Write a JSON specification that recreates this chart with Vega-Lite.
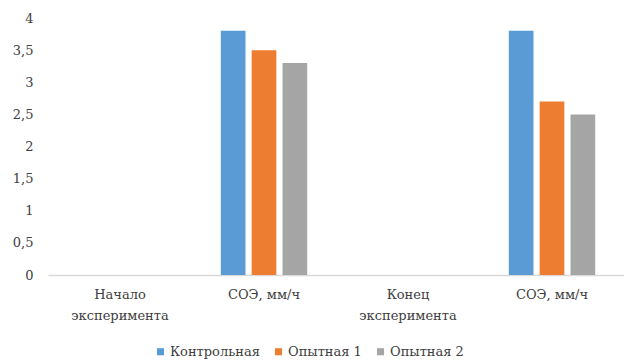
{
  "$schema": "https://vega.github.io/schema/vega-lite/v6.json",
  "width": 576,
  "height": 257,
  "autosize": "none",
  "padding": {"left": 48, "top": 18, "right": 0, "bottom": 88},
  "background": "white",
  "data": {
    "values": [
      {"cat": "B", "group": "Контрольная", "value": 3.8},
      {"cat": "B", "group": "Опытная 1", "value": 3.5},
      {"cat": "B", "group": "Опытная 2", "value": 3.3},
      {"cat": "D", "group": "Контрольная", "value": 3.8},
      {"cat": "D", "group": "Опытная 1", "value": 2.7},
      {"cat": "D", "group": "Опытная 2", "value": 2.5}
    ]
  },
  "mark": {"type": "bar"},
  "encoding": {
    "x": {
      "field": "cat",
      "type": "nominal",
      "scale": {"domain": ["A", "B", "C", "D"], "paddingInner": 0.4, "paddingOuter": 0.2},
      "axis": {
        "title": null,
        "labelAngle": 0,
        "labelExpr": "datum.value == 'A' ? ['Начало', 'эксперимента'] : datum.value == 'C' ? ['Конец', 'эксперимента'] : 'СОЭ, мм/ч'",
        "labelFontSize": 13,
        "labelColor": "#404040",
        "labelPadding": 13,
        "labelLineHeight": 21,
        "ticks": false,
        "domainColor": "#D9D9D9",
        "domainWidth": 1.5,
        "grid": false
      }
    },
    "xOffset": {
      "field": "group",
      "type": "nominal",
      "sort": ["Контрольная", "Опытная 1", "Опытная 2"],
      "scale": {"paddingInner": 0.2, "paddingOuter": 0}
    },
    "y": {
      "field": "value",
      "type": "quantitative",
      "scale": {"domain": [0, 4], "nice": false},
      "axis": {
        "title": null,
        "values": [0, 0.5, 1, 1.5, 2, 2.5, 3, 3.5, 4],
        "labelExpr": "replace(toString(datum.value), '.', ',')",
        "labelFontSize": 13,
        "labelColor": "#404040",
        "labelPadding": 15,
        "ticks": false,
        "domain": false,
        "grid": false
      }
    },
    "color": {
      "field": "group",
      "type": "nominal",
      "sort": ["Контрольная", "Опытная 1", "Опытная 2"],
      "scale": {"domain": ["Контрольная", "Опытная 1", "Опытная 2"], "range": ["#5B9BD5", "#ED7D31", "#A5A5A5"]},
      "legend": {
        "title": null,
        "orient": "none",
        "direction": "horizontal",
        "legendX": 106,
        "legendY": 327,
        "symbolType": "square",
        "symbolSize": 50,
        "symbolStrokeWidth": 0,
        "labelFontSize": 13,
        "labelColor": "#404040",
        "labelOffset": 3,
        "columnPadding": 12
      }
    }
  },
  "config": {"view": {"stroke": null}, "font": "DejaVu Serif"}
}
